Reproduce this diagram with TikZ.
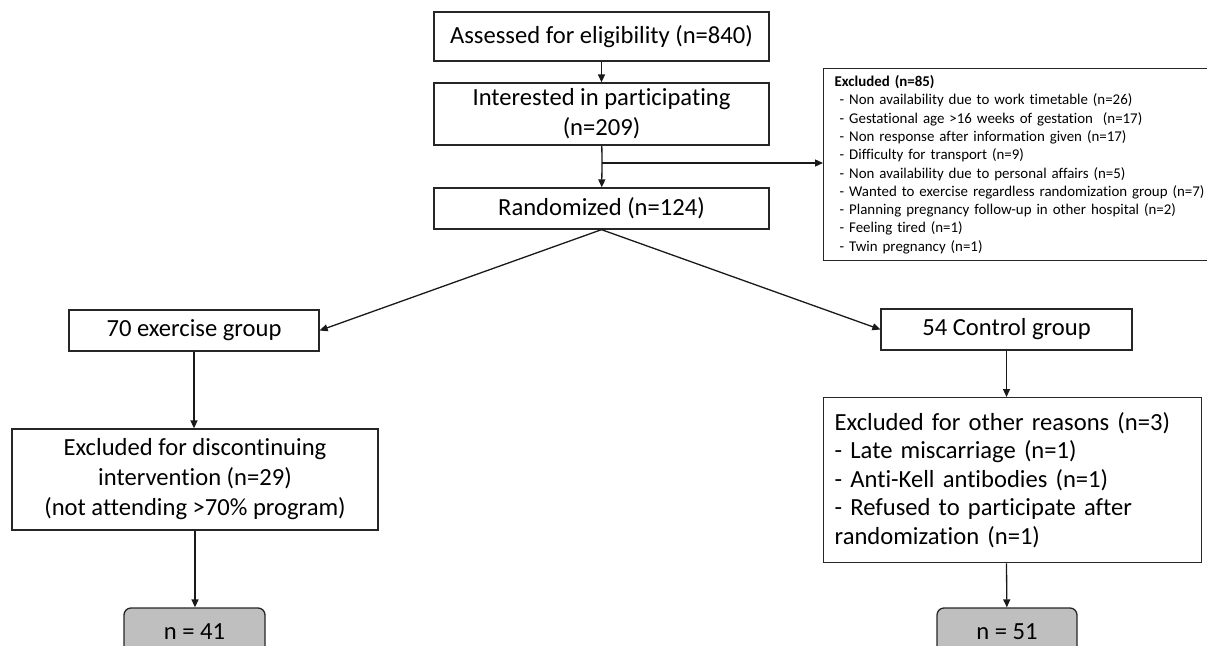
\documentclass[tikz,border=0pt]{standalone}
\usepackage{fontspec}
\setmainfont{Carlito}[Ligatures=NoCommon]
\usetikzlibrary{arrows.meta}
\begin{document}
\begin{tikzpicture}[x=1pt,y=-1pt,
  box/.style={draw=black!85, line width=1.3pt, inner sep=0pt, align=center, font=\fontsize{24.6}{30}\selectfont},
  endbox/.style={box, fill=black!25, rounded corners=7pt},
  arr/.style={draw=black!90, line width=1.3pt, -{Triangle[length=8pt,width=7pt]}},
  ln/.style={draw=black!90, line width=1.3pt}]
\useasboundingbox (0,0) rectangle (1207,645);
\node[box, minimum width=335, minimum height=49] (A) at (601.5,36.5) {Assessed for eligibility (n=840)};
\node[box, minimum width=335, minimum height=62] (I) at (601.5,114) {Interested in participating\\(n=209)};
\node[box, minimum width=335, minimum height=41] (R) at (601.5,208.5) {Randomized (n=124)};
\node[box, anchor=north west, minimum width=392, minimum height=192, text width=372, inner xsep=11pt, align=left, font=\fontsize{14.9}{18.3}\selectfont] (X) at (823,68)
 {\textbf{Excluded (n=85)}\\
 \hspace*{5pt}- Non availability due to work timetable (n=26)\\
 \hspace*{5pt}- Gestational age >16 weeks of gestation \ (n=17)\\
 \hspace*{5pt}- Non response after information given (n=17)\\
 \hspace*{5pt}- Difficulty for transport (n=9)\\
 \hspace*{5pt}- Non availability due to personal affairs (n=5)\\
 \hspace*{5pt}- Wanted to exercise regardless randomization group (n=7)\\
 \hspace*{5pt}- Planning pregnancy follow-up in other hospital (n=2)\\
 \hspace*{5pt}- Feeling tired (n=1)\\
 \hspace*{5pt}- Twin pregnancy (n=1)};
\node[box, minimum width=250, minimum height=41] (E) at (194,330.5) {70 exercise group};
\node[box, minimum width=251, minimum height=41] (C) at (1006.5,329.5) {54 Control group};
\node[box, minimum width=366, minimum height=101] (D) at (195,479.5) {Excluded for discontinuing\\intervention (n=29)\\(not attending >70\% program)};
\node[box, anchor=north west, minimum width=367, minimum height=165, text width=356, inner xsep=11pt, align=left, font=\fontsize{24.6}{28.5}\selectfont] (O) at (823,397)
 {Excluded for other reasons (n=3)\\- Late miscarriage (n=1)\\- Anti-Kell antibodies (n=1)\\- Refused to participate after\\randomization (n=1)};
\node[endbox, minimum width=141, minimum height=48] (N1) at (194.5,632) {n = 41};
\node[endbox, minimum width=140, minimum height=48] (N2) at (1007,632) {n = 51};
\coordinate (br) at (602,163);
\draw[arr] (A) -- (I);
\draw[ln] (I) -- (br);
\draw[arr] (br) -- (R);
\draw[arr] (br) -- (br -| X.west);
\draw[arr] (R.south) -- (E.east);
\draw[arr] (R.south) -- (C.west);
\draw[arr] (E) -- (E |- D.north);
\draw[arr] (D) -- (D |- N1.north);
\draw[arr] (C) -- (C |- O.north);
\draw[arr] (C |- O.south) -- (N2);
\end{tikzpicture}
\end{document}
